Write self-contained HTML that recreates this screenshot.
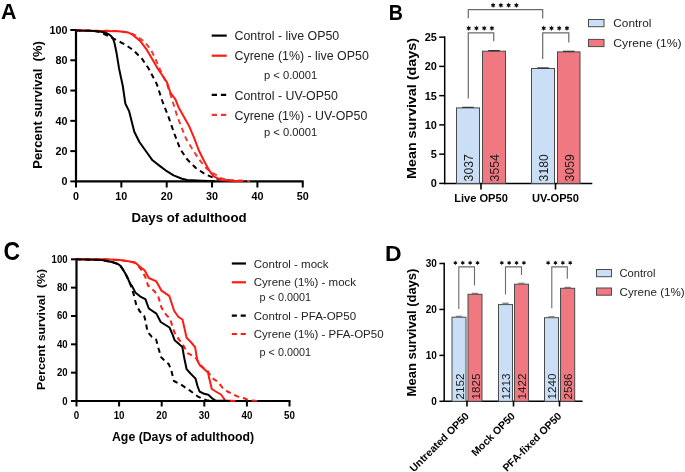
<!DOCTYPE html>
<html><head><meta charset="utf-8"><title>Figure</title>
<style>
html,body{margin:0;padding:0;background:#fff;}
body{width:685px;height:472px;overflow:hidden;}
svg{display:block;will-change:transform;font-family:"Liberation Sans", sans-serif;}
</style></head><body>
<svg width="685" height="472" viewBox="0 0 685 472">
<rect width="685" height="472" fill="#fff"/>
<text transform="translate(1.0 19.0) scale(1 1.05)" font-size="21.5" font-weight="bold" text-anchor="start" fill="#000">A</text>
<line x1="76.0" y1="29.0" x2="76.0" y2="182.4" stroke="#000" stroke-width="2.2" stroke-linecap="butt"/>
<line x1="75.0" y1="181.4" x2="303.6" y2="181.4" stroke="#000" stroke-width="2.2" stroke-linecap="butt"/>
<line x1="70.3" y1="181.4" x2="76.0" y2="181.4" stroke="#000" stroke-width="2.0" stroke-linecap="butt"/>
<text transform="translate(67.6 185.3) scale(1 1.09)" font-size="10.8" font-weight="bold" text-anchor="end" fill="#000">0</text>
<line x1="70.3" y1="151.12" x2="76.0" y2="151.12" stroke="#000" stroke-width="2.0" stroke-linecap="butt"/>
<text transform="translate(67.6 155.02) scale(1 1.09)" font-size="10.8" font-weight="bold" text-anchor="end" fill="#000">20</text>
<line x1="70.3" y1="120.84" x2="76.0" y2="120.84" stroke="#000" stroke-width="2.0" stroke-linecap="butt"/>
<text transform="translate(67.6 124.74000000000001) scale(1 1.09)" font-size="10.8" font-weight="bold" text-anchor="end" fill="#000">40</text>
<line x1="70.3" y1="90.56" x2="76.0" y2="90.56" stroke="#000" stroke-width="2.0" stroke-linecap="butt"/>
<text transform="translate(67.6 94.46000000000001) scale(1 1.09)" font-size="10.8" font-weight="bold" text-anchor="end" fill="#000">60</text>
<line x1="70.3" y1="60.28" x2="76.0" y2="60.28" stroke="#000" stroke-width="2.0" stroke-linecap="butt"/>
<text transform="translate(67.6 64.18) scale(1 1.09)" font-size="10.8" font-weight="bold" text-anchor="end" fill="#000">80</text>
<line x1="70.3" y1="30.0" x2="76.0" y2="30.0" stroke="#000" stroke-width="2.0" stroke-linecap="butt"/>
<text transform="translate(67.6 33.9) scale(1 1.09)" font-size="10.8" font-weight="bold" text-anchor="end" fill="#000">100</text>
<line x1="76.0" y1="181.4" x2="76.0" y2="187.5" stroke="#000" stroke-width="2.0" stroke-linecap="butt"/>
<text transform="translate(76.0 200.0) scale(1 1.09)" font-size="10.8" font-weight="bold" text-anchor="middle" fill="#000">0</text>
<line x1="121.35" y1="181.4" x2="121.35" y2="187.5" stroke="#000" stroke-width="2.0" stroke-linecap="butt"/>
<text transform="translate(121.35 200.0) scale(1 1.09)" font-size="10.8" font-weight="bold" text-anchor="middle" fill="#000">10</text>
<line x1="166.7" y1="181.4" x2="166.7" y2="187.5" stroke="#000" stroke-width="2.0" stroke-linecap="butt"/>
<text transform="translate(166.7 200.0) scale(1 1.09)" font-size="10.8" font-weight="bold" text-anchor="middle" fill="#000">20</text>
<line x1="212.05" y1="181.4" x2="212.05" y2="187.5" stroke="#000" stroke-width="2.0" stroke-linecap="butt"/>
<text transform="translate(212.05 200.0) scale(1 1.09)" font-size="10.8" font-weight="bold" text-anchor="middle" fill="#000">30</text>
<line x1="257.4" y1="181.4" x2="257.4" y2="187.5" stroke="#000" stroke-width="2.0" stroke-linecap="butt"/>
<text transform="translate(257.4 200.0) scale(1 1.09)" font-size="10.8" font-weight="bold" text-anchor="middle" fill="#000">40</text>
<line x1="302.75" y1="181.4" x2="302.75" y2="187.5" stroke="#000" stroke-width="2.0" stroke-linecap="butt"/>
<text transform="translate(302.75 200.0) scale(1 1.09)" font-size="10.8" font-weight="bold" text-anchor="middle" fill="#000">50</text>
<text transform="translate(42.1 105.0) scale(1 1.0) rotate(-90)" font-size="12" font-weight="bold" text-anchor="middle" fill="#000" textLength="127.5" lengthAdjust="spacingAndGlyphs">Percent survival&#160;&#160;(%)</text>
<text transform="translate(189.0 222.0) scale(1 1.0)" font-size="13.2" font-weight="bold" text-anchor="middle" fill="#000" textLength="115" lengthAdjust="spacingAndGlyphs">Days of adulthood</text>
<polyline points="76.0,30.4 95.0,31.0 101.4,32.6 109.9,36.9 116.7,40.3 125.2,44.5 133.6,50.4 142.1,58.9 148.9,69.0 156.8,84.1 162.3,101.0 168.5,116.9 174.4,133.9 180.3,149.2 187.1,159.3 195.6,167.8 205.8,174.6 214.2,178.0 223.8,180.0 235.0,181.0" fill="none" stroke="#000" stroke-width="2.0" stroke-linejoin="round" stroke-dasharray="5.2 4"/>
<polyline points="76.0,30.4 118.0,31.0 128.5,32.6 135.3,35.2 143.8,41.1 150.8,49.3 156.8,62.0 161.9,73.9 167.0,84.1 171.9,99.0 176.9,115.3 181.4,127.1 186.2,139.0 191.4,147.5 199.0,159.3 205.8,167.8 210.7,171.9 215.9,174.9 219.4,177.7 228.2,179.9 241.3,180.6 250.0,181.2" fill="none" stroke="#f03a3a" stroke-width="2.0" stroke-linejoin="round" stroke-dasharray="5.2 4"/>
<polyline points="76.0,30.4 99.7,31.0 118.4,31.3 128.5,32.6 132.0,34.3 140.4,41.1 147.2,50.4 150.0,55.3 156.8,67.1 163.6,77.3 167.0,82.4 170.3,92.5 175.4,99.3 178.8,107.8 182.0,113.6 188.8,125.4 193.9,137.3 199.0,150.8 204.1,161.0 209.2,170.4 213.6,176.3 220.9,179.9 231.0,180.7 242.8,181.2" fill="none" stroke="#fe1c12" stroke-width="2.0" stroke-linejoin="round"/>
<polyline points="76.0,30.4 90.0,30.8 99.7,31.6 105.0,32.4 110.1,35.1 112.8,38.0 114.5,43.0 116.7,53.8 119.0,68.2 122.8,86.0 125.4,103.8 129.2,111.4 131.7,121.6 134.3,131.8 139.4,142.0 145.8,151.0 152.5,160.3 160.0,166.1 166.8,171.2 173.6,175.4 182.0,178.8 187.3,179.9 201.9,180.7 215.0,181.2" fill="none" stroke="#000" stroke-width="2.0" stroke-linejoin="round"/>
<line x1="211.7" y1="35.6" x2="226.7" y2="35.6" stroke="#000" stroke-width="2.2" stroke-linecap="butt"/>
<line x1="211.7" y1="55.7" x2="226.7" y2="55.7" stroke="#fe1c12" stroke-width="2.2" stroke-linecap="butt"/>
<line x1="211.7" y1="94.9" x2="226.7" y2="94.9" stroke="#000" stroke-width="2.2" stroke-linecap="butt" stroke-dasharray="5.3 3.9"/>
<line x1="211.7" y1="114.9" x2="226.7" y2="114.9" stroke="#f03a3a" stroke-width="2.2" stroke-linecap="butt" stroke-dasharray="5.3 3.9"/>
<text transform="translate(234.5 40.2) scale(1 1.0)" font-size="12.4" font-weight="normal" text-anchor="start" fill="#222">Control - live OP50</text>
<text transform="translate(234.5 60.300000000000004) scale(1 1.0)" font-size="12.4" font-weight="normal" text-anchor="start" fill="#222">Cyrene (1%) - live OP50</text>
<text transform="translate(264.0 78.6) scale(1 1.0)" font-size="11.2" font-weight="normal" text-anchor="start" fill="#222">p &lt; 0.0001</text>
<text transform="translate(234.5 99.5) scale(1 1.0)" font-size="12.4" font-weight="normal" text-anchor="start" fill="#222">Control - UV-OP50</text>
<text transform="translate(234.5 119.5) scale(1 1.0)" font-size="12.4" font-weight="normal" text-anchor="start" fill="#222">Cyrene (1%) - UV-OP50</text>
<text transform="translate(264.0 135.8) scale(1 1.0)" font-size="11.2" font-weight="normal" text-anchor="start" fill="#222">p &lt; 0.0001</text>
<text transform="translate(388.8 19.7) scale(1 1.16)" font-size="19.6" font-weight="bold" text-anchor="start" fill="#000">B</text>
<line x1="444.7" y1="36.3" x2="444.7" y2="184.20000000000002" stroke="#000" stroke-width="1.5" stroke-linecap="butt"/>
<line x1="443.95" y1="183.4" x2="592.3" y2="183.4" stroke="#000" stroke-width="1.5" stroke-linecap="butt"/>
<line x1="439.2" y1="183.4" x2="444.7" y2="183.4" stroke="#000" stroke-width="1.5" stroke-linecap="butt"/>
<text transform="translate(436.9 187.3) scale(1 1.0)" font-size="10.9" font-weight="bold" text-anchor="end" fill="#000">0</text>
<line x1="439.2" y1="154.15" x2="444.7" y2="154.15" stroke="#000" stroke-width="1.5" stroke-linecap="butt"/>
<text transform="translate(436.9 158.05) scale(1 1.0)" font-size="10.9" font-weight="bold" text-anchor="end" fill="#000">5</text>
<line x1="439.2" y1="124.9" x2="444.7" y2="124.9" stroke="#000" stroke-width="1.5" stroke-linecap="butt"/>
<text transform="translate(436.9 128.8) scale(1 1.0)" font-size="10.9" font-weight="bold" text-anchor="end" fill="#000">10</text>
<line x1="439.2" y1="95.65" x2="444.7" y2="95.65" stroke="#000" stroke-width="1.5" stroke-linecap="butt"/>
<text transform="translate(436.9 99.55000000000001) scale(1 1.0)" font-size="10.9" font-weight="bold" text-anchor="end" fill="#000">15</text>
<line x1="439.2" y1="66.4" x2="444.7" y2="66.4" stroke="#000" stroke-width="1.5" stroke-linecap="butt"/>
<text transform="translate(436.9 70.30000000000001) scale(1 1.0)" font-size="10.9" font-weight="bold" text-anchor="end" fill="#000">20</text>
<line x1="439.2" y1="37.150000000000006" x2="444.7" y2="37.150000000000006" stroke="#000" stroke-width="1.5" stroke-linecap="butt"/>
<text transform="translate(436.9 41.050000000000004) scale(1 1.0)" font-size="10.9" font-weight="bold" text-anchor="end" fill="#000">25</text>
<text transform="translate(415.8 108.5) scale(1 1.0) rotate(-90)" font-size="13.6" font-weight="bold" text-anchor="middle" fill="#000" textLength="141" lengthAdjust="spacingAndGlyphs">Mean survival (days)</text>
<rect x="456.5" y="107.9" width="23.0" height="75.5" fill="#cadff6" stroke="#4a4a4a" stroke-width="1"/>
<line x1="462.2" y1="107.35000000000001" x2="473.8" y2="107.35000000000001" stroke="#333" stroke-width="1.2" stroke-linecap="butt"/>
<line x1="468.0" y1="107.35000000000001" x2="468.0" y2="107.935" stroke="#333" stroke-width="1.2" stroke-linecap="butt"/>
<rect x="482.5" y="51.2" width="23.0" height="132.2" fill="#f07880" stroke="#4a4a4a" stroke-width="1"/>
<line x1="488.2" y1="50.605" x2="499.8" y2="50.605" stroke="#333" stroke-width="1.2" stroke-linecap="butt"/>
<line x1="494.0" y1="50.605" x2="494.0" y2="51.19" stroke="#333" stroke-width="1.2" stroke-linecap="butt"/>
<rect x="531.5" y="68.5" width="23.0" height="114.9" fill="#cadff6" stroke="#4a4a4a" stroke-width="1"/>
<line x1="537.2" y1="67.92100000000002" x2="548.8" y2="67.92100000000002" stroke="#333" stroke-width="1.2" stroke-linecap="butt"/>
<line x1="543.0" y1="67.92100000000002" x2="543.0" y2="68.50600000000001" stroke="#333" stroke-width="1.2" stroke-linecap="butt"/>
<rect x="557.5" y="51.9" width="22.5" height="131.5" fill="#f07880" stroke="#4a4a4a" stroke-width="1"/>
<line x1="562.95" y1="51.30700000000002" x2="574.55" y2="51.30700000000002" stroke="#333" stroke-width="1.2" stroke-linecap="butt"/>
<line x1="568.75" y1="51.30700000000002" x2="568.75" y2="51.892000000000024" stroke="#333" stroke-width="1.2" stroke-linecap="butt"/>
<text transform="translate(472.9 181.4) scale(1 1.0) rotate(-90)" font-size="12.2" font-weight="normal" text-anchor="start" fill="#1a1a1a">3037</text>
<text transform="translate(498.9 181.4) scale(1 1.0) rotate(-90)" font-size="12.2" font-weight="normal" text-anchor="start" fill="#1a1a1a">3554</text>
<text transform="translate(547.9 181.4) scale(1 1.0) rotate(-90)" font-size="12.2" font-weight="normal" text-anchor="start" fill="#1a1a1a">3180</text>
<text transform="translate(573.9 181.4) scale(1 1.0) rotate(-90)" font-size="12.2" font-weight="normal" text-anchor="start" fill="#1a1a1a">3059</text>
<line x1="481.0" y1="183.4" x2="481.0" y2="189.5" stroke="#000" stroke-width="1.6" stroke-linecap="butt"/>
<line x1="555.5" y1="183.4" x2="555.5" y2="189.5" stroke="#000" stroke-width="1.6" stroke-linecap="butt"/>
<text transform="translate(481.0 201.6) scale(1 1.0)" font-size="11.1" font-weight="bold" text-anchor="middle" fill="#000">Live OP50</text>
<text transform="translate(555.5 201.6) scale(1 1.0)" font-size="11.1" font-weight="bold" text-anchor="middle" fill="#000">UV-OP50</text>
<polyline points="468.3,18.2 468.3,9.7 542.7,9.7 542.7,18.4" fill="none" stroke="#6a6a6a" stroke-width="1.2"/>
<polyline points="468.3,98.4 468.3,32.9 493.7,32.9 493.7,41.2" fill="none" stroke="#6a6a6a" stroke-width="1.2"/>
<polyline points="542.7,58.9 542.7,32.9 568.8,32.9 568.8,42.5" fill="none" stroke="#6a6a6a" stroke-width="1.2"/>
<polygon points="493.1,2.6 492.4,4.1 490.8,3.9 491.7,5.3 490.8,6.6 492.4,6.5 493.1,8.0 493.8,6.5 495.4,6.7 494.5,5.3 495.4,3.9 493.8,4.1" fill="#111"/>
<polygon points="500.9,2.6 500.2,4.1 498.5,3.9 499.5,5.3 498.5,6.6 500.2,6.5 500.9,8.0 501.6,6.5 503.2,6.7 502.2,5.3 503.2,3.9 501.6,4.1" fill="#111"/>
<polygon points="508.6,2.6 507.9,4.1 506.3,3.9 507.2,5.3 506.3,6.6 507.9,6.5 508.6,8.0 509.3,6.5 510.9,6.7 510.0,5.3 510.9,3.9 509.3,4.1" fill="#111"/>
<polygon points="516.4,2.6 515.6,4.1 514.0,3.9 515.0,5.3 514.0,6.6 515.6,6.5 516.4,8.0 517.1,6.5 518.7,6.7 517.8,5.3 518.7,3.9 517.1,4.1" fill="#111"/>
<polygon points="468.7,25.5 468.0,27.0 466.4,26.8 467.3,28.2 466.4,29.5 468.0,29.4 468.7,30.9 469.4,29.4 471.0,29.6 470.1,28.2 471.0,26.8 469.4,27.0" fill="#111"/>
<polygon points="476.4,25.5 475.8,27.0 474.1,26.8 475.1,28.2 474.1,29.5 475.8,29.4 476.4,30.9 477.1,29.4 478.8,29.6 477.8,28.2 478.8,26.8 477.1,27.0" fill="#111"/>
<polygon points="484.2,25.5 483.5,27.0 481.9,26.8 482.8,28.2 481.9,29.5 483.5,29.4 484.2,30.9 484.9,29.4 486.5,29.6 485.6,28.2 486.5,26.8 484.9,27.0" fill="#111"/>
<polygon points="491.9,25.5 491.2,27.0 489.6,26.8 490.6,28.2 489.6,29.5 491.2,29.4 491.9,30.9 492.6,29.4 494.3,29.6 493.3,28.2 494.3,26.8 492.6,27.0" fill="#111"/>
<polygon points="543.7,25.5 543.0,27.0 541.4,26.8 542.3,28.2 541.4,29.5 543.0,29.4 543.7,30.9 544.4,29.4 546.0,29.6 545.1,28.2 546.0,26.8 544.4,27.0" fill="#111"/>
<polygon points="551.5,25.5 550.8,27.0 549.1,26.8 550.1,28.2 549.1,29.5 550.8,29.4 551.5,30.9 552.2,29.4 553.8,29.6 552.9,28.2 553.8,26.8 552.2,27.0" fill="#111"/>
<polygon points="559.2,25.5 558.5,27.0 556.9,26.8 557.8,28.2 556.9,29.5 558.5,29.4 559.2,30.9 559.9,29.4 561.5,29.6 560.6,28.2 561.5,26.8 559.9,27.0" fill="#111"/>
<polygon points="567.0,25.5 566.2,27.0 564.6,26.8 565.6,28.2 564.6,29.5 566.2,29.4 567.0,30.9 567.7,29.4 569.3,29.6 568.4,28.2 569.3,26.8 567.7,27.0" fill="#111"/>
<rect x="588.5" y="19.5" width="15.5" height="7.2" fill="#cadff6" stroke="#4a4a4a" stroke-width="1"/>
<rect x="588.5" y="39.4" width="15.5" height="7.2" fill="#f07880" stroke="#4a4a4a" stroke-width="1"/>
<text transform="translate(613.3 27.2) scale(1 1.0)" font-size="11.8" font-weight="normal" text-anchor="start" fill="#222">Control</text>
<text transform="translate(613.3 47.2) scale(1 1.0)" font-size="11.8" font-weight="normal" text-anchor="start" fill="#222" textLength="68.3" lengthAdjust="spacingAndGlyphs">Cyrene (1%)</text>
<text transform="translate(3.5 260.4) scale(1 1.09)" font-size="23" font-weight="bold" text-anchor="start" fill="#000">C</text>
<line x1="76.5" y1="258.3" x2="76.5" y2="402.0" stroke="#000" stroke-width="2.2" stroke-linecap="butt"/>
<line x1="75.5" y1="401.0" x2="290.5" y2="401.0" stroke="#000" stroke-width="2.2" stroke-linecap="butt"/>
<line x1="71.0" y1="401.0" x2="76.5" y2="401.0" stroke="#000" stroke-width="2.0" stroke-linecap="butt"/>
<text transform="translate(67.6 404.5) scale(1 1.13)" font-size="9.6" font-weight="bold" text-anchor="end" fill="#000">0</text>
<line x1="71.0" y1="372.66" x2="76.5" y2="372.66" stroke="#000" stroke-width="2.0" stroke-linecap="butt"/>
<text transform="translate(67.6 376.16) scale(1 1.13)" font-size="9.6" font-weight="bold" text-anchor="end" fill="#000">20</text>
<line x1="71.0" y1="344.32" x2="76.5" y2="344.32" stroke="#000" stroke-width="2.0" stroke-linecap="butt"/>
<text transform="translate(67.6 347.82) scale(1 1.13)" font-size="9.6" font-weight="bold" text-anchor="end" fill="#000">40</text>
<line x1="71.0" y1="315.98" x2="76.5" y2="315.98" stroke="#000" stroke-width="2.0" stroke-linecap="butt"/>
<text transform="translate(67.6 319.48) scale(1 1.13)" font-size="9.6" font-weight="bold" text-anchor="end" fill="#000">60</text>
<line x1="71.0" y1="287.64" x2="76.5" y2="287.64" stroke="#000" stroke-width="2.0" stroke-linecap="butt"/>
<text transform="translate(67.6 291.14) scale(1 1.13)" font-size="9.6" font-weight="bold" text-anchor="end" fill="#000">80</text>
<line x1="71.0" y1="259.3" x2="76.5" y2="259.3" stroke="#000" stroke-width="2.0" stroke-linecap="butt"/>
<text transform="translate(67.6 262.8) scale(1 1.13)" font-size="9.6" font-weight="bold" text-anchor="end" fill="#000">100</text>
<line x1="76.5" y1="401.0" x2="76.5" y2="406.5" stroke="#000" stroke-width="2.0" stroke-linecap="butt"/>
<text transform="translate(76.5 418.9) scale(1 1.15)" font-size="9.8" font-weight="bold" text-anchor="middle" fill="#000">0</text>
<line x1="119.1" y1="401.0" x2="119.1" y2="406.5" stroke="#000" stroke-width="2.0" stroke-linecap="butt"/>
<text transform="translate(119.1 418.9) scale(1 1.15)" font-size="9.8" font-weight="bold" text-anchor="middle" fill="#000">10</text>
<line x1="161.7" y1="401.0" x2="161.7" y2="406.5" stroke="#000" stroke-width="2.0" stroke-linecap="butt"/>
<text transform="translate(161.7 418.9) scale(1 1.15)" font-size="9.8" font-weight="bold" text-anchor="middle" fill="#000">20</text>
<line x1="204.3" y1="401.0" x2="204.3" y2="406.5" stroke="#000" stroke-width="2.0" stroke-linecap="butt"/>
<text transform="translate(204.3 418.9) scale(1 1.15)" font-size="9.8" font-weight="bold" text-anchor="middle" fill="#000">30</text>
<line x1="246.89999999999998" y1="401.0" x2="246.89999999999998" y2="406.5" stroke="#000" stroke-width="2.0" stroke-linecap="butt"/>
<text transform="translate(246.89999999999998 418.9) scale(1 1.15)" font-size="9.8" font-weight="bold" text-anchor="middle" fill="#000">40</text>
<line x1="289.5" y1="401.0" x2="289.5" y2="406.5" stroke="#000" stroke-width="2.0" stroke-linecap="butt"/>
<text transform="translate(289.5 418.9) scale(1 1.15)" font-size="9.8" font-weight="bold" text-anchor="middle" fill="#000">50</text>
<text transform="translate(45.0 329.4) scale(1 1.0) rotate(-90)" font-size="11.8" font-weight="bold" text-anchor="middle" fill="#000" textLength="121" lengthAdjust="spacingAndGlyphs">Percent survival&#160;&#160;(%)</text>
<text transform="translate(183.0 441.0) scale(1 1.0)" font-size="12.3" font-weight="bold" text-anchor="middle" fill="#000" textLength="142" lengthAdjust="spacingAndGlyphs">Age (Days of adulthood)</text>
<polyline points="76.0,259.2 102.3,260.1 112.8,262.3 118.0,264.0 121.0,267.0 124.0,271.0 127.0,277.0 130.2,283.9 133.6,294.1 136.1,304.2 139.5,311.0 144.2,316.0 145.5,321.0 147.6,331.9 151.9,336.9 156.1,339.5 158.6,348.8 161.2,357.3 165.4,361.5 168.8,364.1 171.4,370.8 173.9,381.0 180.7,384.4 185.8,387.8 190.8,391.2 197.6,396.3 202.7,398.8 206.4,400.3 215.0,401.0" fill="none" stroke="#000" stroke-width="2.0" stroke-linejoin="round" stroke-dasharray="5.2 4"/>
<polyline points="76.0,259.2 104.0,259.2 119.8,260.1 128.5,261.2 135.3,262.7 141.2,269.5 145.4,277.1 148.0,285.6 153.9,290.7 158.1,295.8 161.5,307.6 165.8,314.4 169.2,317.8 170.5,320.0 173.0,328.5 175.6,335.3 182.4,343.7 187.5,353.1 192.5,355.6 196.8,359.0 199.5,364.0 203.0,367.5 207.5,370.8 211.5,377.5 216.5,381.0 219.5,384.0 222.7,388.0 227.4,391.5 236.7,396.2 244.9,398.5 248.4,400.3 258.0,401.0" fill="none" stroke="#fe1c12" stroke-width="2.0" stroke-linejoin="round" stroke-dasharray="5.2 4"/>
<polyline points="76.0,259.2 104.0,259.2 119.8,260.1 128.5,261.2 135.3,262.7 140.3,267.0 144.6,270.3 148.8,278.0 156.4,281.4 161.5,290.7 169.2,295.8 174.2,311.0 178.5,317.0 182.5,319.5 186.6,337.8 190.8,342.0 195.1,347.1 197.3,360.5 200.0,365.5 204.4,369.2 208.0,372.6 209.4,379.0 211.8,389.0 216.6,392.0 221.0,394.5 223.9,398.5 225.0,400.5 235.0,401.0" fill="none" stroke="#fe1c12" stroke-width="2.0" stroke-linejoin="round"/>
<polyline points="76.0,259.2 102.3,260.1 112.8,262.3 118.0,264.0 120.8,266.1 122.4,268.4 126.8,276.0 130.2,283.9 132.0,286.0 135.3,292.4 140.3,296.6 145.4,299.2 148.8,308.5 156.4,313.6 160.7,322.0 169.5,327.5 172.2,333.6 174.7,340.3 182.4,347.1 184.1,357.3 186.6,369.2 190.5,373.5 195.5,378.6 197.5,386.0 199.5,391.5 204.2,393.8 208.3,394.8 212.1,398.3 215.5,400.5 230.0,401.0" fill="none" stroke="#000" stroke-width="2.0" stroke-linejoin="round"/>
<line x1="231.8" y1="263.5" x2="246.0" y2="263.5" stroke="#000" stroke-width="2.2" stroke-linecap="butt"/>
<line x1="231.8" y1="282.3" x2="246.0" y2="282.3" stroke="#fe1c12" stroke-width="2.2" stroke-linecap="butt"/>
<line x1="231.8" y1="315.6" x2="246.0" y2="315.6" stroke="#000" stroke-width="2.2" stroke-linecap="butt" stroke-dasharray="5.1 3.8"/>
<line x1="231.8" y1="334.0" x2="246.0" y2="334.0" stroke="#fe1c12" stroke-width="2.2" stroke-linecap="butt" stroke-dasharray="5.1 3.8"/>
<text transform="translate(253.8 267.6) scale(1 1.0)" font-size="11.5" font-weight="normal" text-anchor="start" fill="#222">Control - mock</text>
<text transform="translate(253.8 286.40000000000003) scale(1 1.0)" font-size="11.5" font-weight="normal" text-anchor="start" fill="#222">Cyrene (1%) - mock</text>
<text transform="translate(259.6 301.3) scale(1 1.0)" font-size="10.8" font-weight="normal" text-anchor="start" fill="#222">p &lt; 0.0001</text>
<text transform="translate(253.8 319.70000000000005) scale(1 1.0)" font-size="11.5" font-weight="normal" text-anchor="start" fill="#222">Control - PFA-OP50</text>
<text transform="translate(253.8 338.1) scale(1 1.0)" font-size="11.5" font-weight="normal" text-anchor="start" fill="#222">Cyrene (1%) - PFA-OP50</text>
<text transform="translate(259.6 355.5) scale(1 1.0)" font-size="10.8" font-weight="normal" text-anchor="start" fill="#222">p &lt; 0.0001</text>
<text transform="translate(384.9 260.7) scale(1 0.97)" font-size="23" font-weight="bold" text-anchor="start" fill="#000">D</text>
<line x1="444.2" y1="262.8" x2="444.2" y2="402.1" stroke="#000" stroke-width="1.5" stroke-linecap="butt"/>
<line x1="443.45" y1="401.3" x2="582.6" y2="401.3" stroke="#000" stroke-width="1.5" stroke-linecap="butt"/>
<line x1="439.4" y1="401.3" x2="444.2" y2="401.3" stroke="#000" stroke-width="1.5" stroke-linecap="butt"/>
<text transform="translate(436.8 404.90000000000003) scale(1 1.05)" font-size="10" font-weight="bold" text-anchor="end" fill="#000">0</text>
<line x1="439.4" y1="355.3666666666667" x2="444.2" y2="355.3666666666667" stroke="#000" stroke-width="1.5" stroke-linecap="butt"/>
<text transform="translate(436.8 358.9666666666667) scale(1 1.05)" font-size="10" font-weight="bold" text-anchor="end" fill="#000">10</text>
<line x1="439.4" y1="309.43333333333334" x2="444.2" y2="309.43333333333334" stroke="#000" stroke-width="1.5" stroke-linecap="butt"/>
<text transform="translate(436.8 313.03333333333336) scale(1 1.05)" font-size="10" font-weight="bold" text-anchor="end" fill="#000">20</text>
<line x1="439.4" y1="263.5" x2="444.2" y2="263.5" stroke="#000" stroke-width="1.5" stroke-linecap="butt"/>
<text transform="translate(436.8 267.1) scale(1 1.05)" font-size="10" font-weight="bold" text-anchor="end" fill="#000">30</text>
<text transform="translate(415.6 332.5) scale(1 1.0) rotate(-90)" font-size="12.2" font-weight="bold" text-anchor="middle" fill="#000" textLength="127.8" lengthAdjust="spacingAndGlyphs">Mean survival (days)</text>
<rect x="452.0" y="317.2" width="14.0" height="84.1" fill="#cadff6" stroke="#4a4a4a" stroke-width="1"/>
<line x1="455.8" y1="316.3233333333334" x2="462.2" y2="316.3233333333334" stroke="#777" stroke-width="1.2" stroke-linecap="butt"/>
<line x1="459.0" y1="316.3233333333334" x2="459.0" y2="317.242" stroke="#777" stroke-width="1.2" stroke-linecap="butt"/>
<rect x="468.0" y="294.3" width="14.0" height="107.0" fill="#f07880" stroke="#4a4a4a" stroke-width="1"/>
<line x1="471.8" y1="293.3566666666667" x2="478.2" y2="293.3566666666667" stroke="#777" stroke-width="1.2" stroke-linecap="butt"/>
<line x1="475.0" y1="293.3566666666667" x2="475.0" y2="294.2753333333333" stroke="#777" stroke-width="1.2" stroke-linecap="butt"/>
<rect x="498.5" y="304.6" width="14.0" height="96.7" fill="#cadff6" stroke="#4a4a4a" stroke-width="1"/>
<line x1="502.3" y1="303.2323333333333" x2="508.7" y2="303.2323333333333" stroke="#777" stroke-width="1.2" stroke-linecap="butt"/>
<line x1="505.5" y1="303.2323333333333" x2="505.5" y2="304.6103333333333" stroke="#777" stroke-width="1.2" stroke-linecap="butt"/>
<rect x="514.5" y="284.2" width="14.0" height="117.1" fill="#f07880" stroke="#4a4a4a" stroke-width="1"/>
<line x1="518.3" y1="283.2513333333334" x2="524.7" y2="283.2513333333334" stroke="#777" stroke-width="1.2" stroke-linecap="butt"/>
<line x1="521.5" y1="283.2513333333334" x2="521.5" y2="284.17" stroke="#777" stroke-width="1.2" stroke-linecap="butt"/>
<rect x="544.5" y="317.7" width="14.0" height="83.6" fill="#cadff6" stroke="#4a4a4a" stroke-width="1"/>
<line x1="548.3" y1="316.7826666666666" x2="554.7" y2="316.7826666666666" stroke="#777" stroke-width="1.2" stroke-linecap="butt"/>
<line x1="551.5" y1="316.7826666666666" x2="551.5" y2="317.7013333333333" stroke="#777" stroke-width="1.2" stroke-linecap="butt"/>
<rect x="560.5" y="288.3" width="14.200000000000045" height="113.0" fill="#f07880" stroke="#4a4a4a" stroke-width="1"/>
<line x1="564.4" y1="287.3853333333333" x2="570.8000000000001" y2="287.3853333333333" stroke="#777" stroke-width="1.2" stroke-linecap="butt"/>
<line x1="567.6" y1="287.3853333333333" x2="567.6" y2="288.304" stroke="#777" stroke-width="1.2" stroke-linecap="butt"/>
<text transform="translate(463.6 399.6) scale(1 1.0) rotate(-90)" font-size="11.8" font-weight="normal" text-anchor="start" fill="#1a1a1a">2152</text>
<text transform="translate(479.6 399.6) scale(1 1.0) rotate(-90)" font-size="11.8" font-weight="normal" text-anchor="start" fill="#1a1a1a">1825</text>
<text transform="translate(510.1 399.6) scale(1 1.0) rotate(-90)" font-size="11.8" font-weight="normal" text-anchor="start" fill="#1a1a1a">1213</text>
<text transform="translate(526.1 399.6) scale(1 1.0) rotate(-90)" font-size="11.8" font-weight="normal" text-anchor="start" fill="#1a1a1a">1422</text>
<text transform="translate(556.1 399.6) scale(1 1.0) rotate(-90)" font-size="11.8" font-weight="normal" text-anchor="start" fill="#1a1a1a">1240</text>
<text transform="translate(572.1 399.6) scale(1 1.0) rotate(-90)" font-size="11.8" font-weight="normal" text-anchor="start" fill="#1a1a1a">2586</text>
<line x1="467.0" y1="401.3" x2="467.0" y2="406.5" stroke="#000" stroke-width="1.6" stroke-linecap="butt"/>
<line x1="513.5" y1="401.3" x2="513.5" y2="406.5" stroke="#000" stroke-width="1.6" stroke-linecap="butt"/>
<line x1="559.5" y1="401.3" x2="559.5" y2="406.5" stroke="#000" stroke-width="1.6" stroke-linecap="butt"/>
<text transform="translate(469.7 416.8) scale(1 1.0) rotate(-45)" font-size="10.5" font-weight="bold" text-anchor="end" fill="#000">Untreated OP50</text>
<text transform="translate(515.7 416.8) scale(1 1.0) rotate(-45)" font-size="10.5" font-weight="bold" text-anchor="end" fill="#000">Mock OP50</text>
<text transform="translate(562.2 416.8) scale(1 1.0) rotate(-45)" font-size="10.5" font-weight="bold" text-anchor="end" fill="#000">PFA-fixed OP50</text>
<polyline points="458.8,309 458.8,266.9 474.5,266.9 474.5,285.6" fill="none" stroke="#6a6a6a" stroke-width="1.1"/>
<polyline points="505.5,294.6 505.5,266.9 521.5,266.9 521.5,274.9" fill="none" stroke="#6a6a6a" stroke-width="1.1"/>
<polyline points="551.8,308.3 551.8,266.9 567.3,266.9 567.3,278.7" fill="none" stroke="#6a6a6a" stroke-width="1.1"/>
<polygon points="455.4,260.5 454.8,261.8 453.3,261.7 454.1,262.9 453.3,264.1 454.8,264.0 455.4,265.3 456.0,264.0 457.5,264.1 456.6,262.9 457.5,261.7 456.0,261.8" fill="#111"/>
<polygon points="462.8,260.5 462.1,261.8 460.7,261.7 461.5,262.9 460.7,264.1 462.1,264.0 462.8,265.3 463.4,264.0 464.8,264.1 464.0,262.9 464.8,261.7 463.4,261.8" fill="#111"/>
<polygon points="470.1,260.5 469.5,261.8 468.1,261.7 468.9,262.9 468.1,264.1 469.5,264.0 470.1,265.3 470.8,264.0 472.2,264.1 471.4,262.9 472.2,261.7 470.8,261.8" fill="#111"/>
<polygon points="477.5,260.5 476.9,261.8 475.4,261.7 476.3,262.9 475.4,264.1 476.9,264.0 477.5,265.3 478.1,264.0 479.6,264.1 478.8,262.9 479.6,261.7 478.1,261.8" fill="#111"/>
<polygon points="501.8,260.5 501.2,261.8 499.7,261.7 500.6,262.9 499.7,264.1 501.2,264.0 501.8,265.3 502.4,264.0 503.9,264.1 503.1,262.9 503.9,261.7 502.4,261.8" fill="#111"/>
<polygon points="509.2,260.5 508.5,261.8 507.1,261.7 507.9,262.9 507.1,264.1 508.5,264.0 509.2,265.3 509.8,264.0 511.2,264.1 510.4,262.9 511.2,261.7 509.8,261.8" fill="#111"/>
<polygon points="516.5,260.5 515.9,261.8 514.5,261.7 515.3,262.9 514.5,264.1 515.9,264.0 516.5,265.3 517.2,264.0 518.6,264.1 517.8,262.9 518.6,261.7 517.2,261.8" fill="#111"/>
<polygon points="523.9,260.5 523.3,261.8 521.8,261.7 522.7,262.9 521.8,264.1 523.3,264.0 523.9,265.3 524.5,264.0 526.0,264.1 525.2,262.9 526.0,261.7 524.5,261.8" fill="#111"/>
<polygon points="548.1,260.4 547.5,261.7 546.0,261.6 546.9,262.8 546.0,264.0 547.5,263.9 548.1,265.2 548.7,263.9 550.2,264.0 549.4,262.8 550.2,261.6 548.7,261.7" fill="#111"/>
<polygon points="555.5,260.4 554.8,261.7 553.4,261.6 554.2,262.8 553.4,264.0 554.8,263.9 555.5,265.2 556.1,263.9 557.5,264.0 556.7,262.8 557.5,261.6 556.1,261.7" fill="#111"/>
<polygon points="562.8,260.4 562.2,261.7 560.8,261.6 561.6,262.8 560.8,264.0 562.2,263.9 562.8,265.2 563.5,263.9 564.9,264.0 564.1,262.8 564.9,261.6 563.5,261.7" fill="#111"/>
<polygon points="570.2,260.4 569.6,261.7 568.1,261.6 569.0,262.8 568.1,264.0 569.6,263.9 570.2,265.2 570.8,263.9 572.3,264.0 571.5,262.8 572.3,261.6 570.8,261.7" fill="#111"/>
<rect x="596.5" y="269.5" width="15" height="7.2" fill="#cadff6" stroke="#4a4a4a" stroke-width="1"/>
<rect x="596.5" y="288.0" width="15" height="7.2" fill="#f07880" stroke="#4a4a4a" stroke-width="1"/>
<text transform="translate(619.6 277.0) scale(1 1.0)" font-size="11.1" font-weight="normal" text-anchor="start" fill="#222">Control</text>
<text transform="translate(619.6 295.6) scale(1 1.0)" font-size="11.1" font-weight="normal" text-anchor="start" fill="#222" textLength="65" lengthAdjust="spacingAndGlyphs">Cyrene (1%)</text>
</svg>
</body></html>
